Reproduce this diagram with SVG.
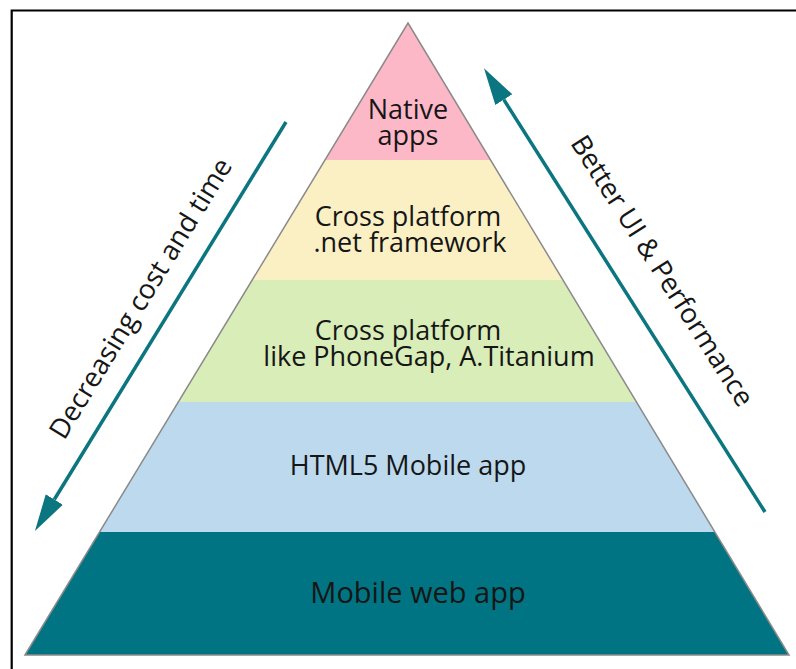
<svg xmlns="http://www.w3.org/2000/svg" width="796" height="669" viewBox="0 0 796 669">
<defs>
<style>
.lbl{font-family:"Open Sans","Liberation Sans",sans-serif;font-size:27px;fill:#161616;text-anchor:middle}
.big{font-size:29px}
.side{font-family:"Open Sans","Liberation Sans",sans-serif;font-size:27.5px;fill:#161616;text-anchor:middle}
.layer{stroke:none}
.edge{fill:none;stroke:#8a8a8a;stroke-width:1.5}
.arrow{stroke:#0b7580;stroke-width:3.5;fill:none}
</style>
<marker id="head" markerUnits="userSpaceOnUse" markerWidth="40" markerHeight="24" viewBox="0 -12 40 24" refX="0" refY="0" orient="auto">
<path d="M0,-10 L37,0 L0,10 Z" fill="#0b7580"/>
</marker>
</defs>
<rect width="796" height="669" fill="#ffffff"/>
<path d="M11.7,669 V10.5 H796" fill="none" stroke="#000" stroke-width="2.2"/>

<g id="native">
<polygon class="layer" points="408,23 490.6,160 325,160" fill="#fdb8c8"/>
<text class="lbl" x="408" y="119">Native</text>
<text class="lbl" x="408" y="145">apps</text>
</g>
<g id="cross-net">
<polygon class="layer" points="325,160 490.6,160 562.9,280 252.3,280" fill="#fbf0c4"/>
<text class="lbl" x="408" y="226">Cross platform</text>
<text class="lbl" x="410" y="252">.net framework</text>
</g>
<g id="cross-phonegap">
<polygon class="layer" points="252.3,280 562.9,280 636.5,402 178.3,402" fill="#d9edb8"/>
<text class="lbl" x="408" y="340">Cross platform</text>
<text class="lbl" x="429" y="366">like PhoneGap, A.Titanium</text>
</g>
<g id="html5">
<polygon class="layer" points="178.3,402 636.5,402 714.9,532 99.5,532" fill="#bcd9ee"/>
<text class="lbl" x="408" y="475">HTML5 Mobile app</text>
</g>
<g id="mobile-web">
<polygon class="layer" points="99.5,532 714.9,532 789,655 25,655" fill="#007482"/>
<text class="lbl big" x="418" y="603">Mobile web app</text>
</g>
<path class="edge" d="M25,655 L408,23 L789,655 Z"/>

<g id="connectors">
<line class="arrow" x1="286" y1="122" x2="54.3" y2="499.5" marker-end="url(#head)"/>
<line class="arrow" x1="765" y1="512" x2="503.8" y2="99.6" marker-end="url(#head)"/>
<text class="side" transform="translate(141,298.5) rotate(-58.5)" y="9">Decreasing cost and time</text>
<text class="side" transform="translate(662,271) rotate(57.5)" y="9">Better UI &amp; Performance</text>
</g>
</svg>
